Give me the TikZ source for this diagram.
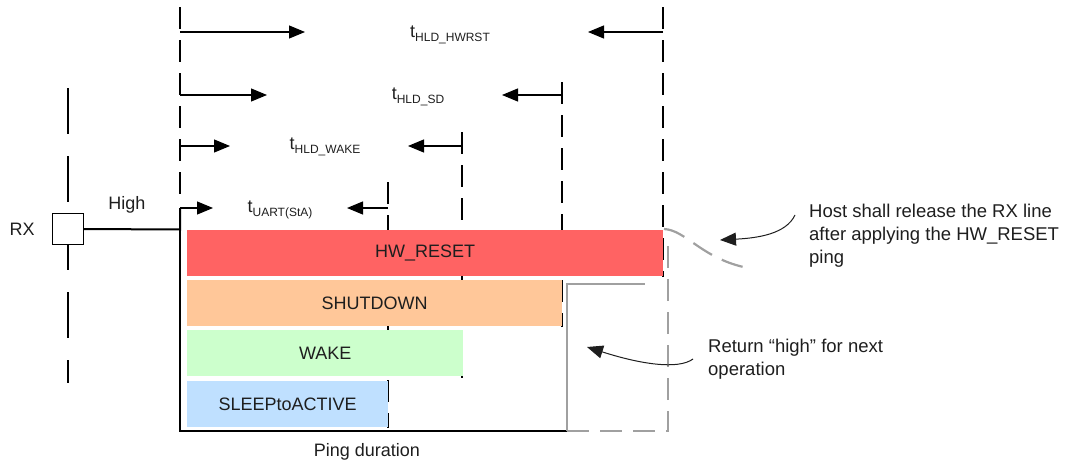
\documentclass[tikz,border=0pt]{standalone}
\usepackage{fontspec}
\setmainfont{Liberation Sans}
\usetikzlibrary{arrows.meta, positioning, calc}
\definecolor{PingRed}{RGB}{255, 99, 99}
\definecolor{PingPeach}{RGB}{255, 199, 153}
\definecolor{PingGreen}{RGB}{204, 255, 204}
\definecolor{PingBlue}{RGB}{191, 224, 255}
\definecolor{PingGray}{RGB}{160, 160, 160}
\definecolor{PingInk}{RGB}{30, 30, 30}
\tikzset{
  guide/.style={line width=2.2pt, dash pattern=on 22pt off 11pt},
  rxguide/.style={line width=2.2pt, dash pattern=on 46pt off 22pt},
  span/.style={line width=1.2pt, -{Triangle[length=16pt, width=13pt]}},
  callout/.style={line width=1pt, PingInk, -{Triangle[length=16pt, width=13pt]}},
  bar/.style={anchor=north west, inner sep=0pt, minimum height=46pt,
    font=\fontsize{18}{20}\selectfont, text=PingInk},
  note/.style={align=left, anchor=north west, inner sep=0pt,
    font=\fontsize{18.5}{23}\selectfont, text=PingInk},
  lbl/.style={font=\fontsize{18}{20}\selectfont, text=PingInk, inner sep=0pt},
}
\newcommand{\tlabel}[1]{t\raisebox{-0.45ex}{\fontsize{12}{12}\selectfont #1}}

\begin{document}
\begin{tikzpicture}[x=1pt, y=-1pt]
  \useasboundingbox (0,0) rectangle (1075,466);
  % dashed time guides
  \draw[guide] (180,7) -- (180,200);
  \draw[guide] (663,7) -- (663,277);
  \draw[guide] (562,82) -- (562,327);
  \draw[guide] (462,132) -- (462,378);
  \draw[guide] (388,182) -- (388,428);
  \draw[rxguide] (68,88) -- (68,383);

  % ping bars
  \node[bar, fill=PingRed, minimum width=476pt] (hwreset) at (187,230) {HW\_RESET};
  \node[bar, fill=PingPeach, minimum width=375pt] (shutdown) at (187,280) {SHUTDOWN};
  \node[bar, fill=PingGreen, minimum width=276pt] (wake) at (187,330) {WAKE};
  \node[bar, fill=PingBlue, minimum width=201pt] (sleep) at (187,381) {SLEEPtoACTIVE};

  % frame and release lines
  \draw[line width=2pt] (180,208) -- (180,431) -- (567,431);
  \draw[line width=2pt, PingGray] (567,431) -- (567,284) -- (645,284);
  \draw[guide, PingGray] (567,431) -- (668,431) -- (668,240);
  \draw[guide, PingGray] (664,229) .. controls (686,230) and (702,259) .. (748,268);

  % RX input
  \node[draw, fill=white, line width=1.2pt, minimum size=31pt, inner sep=0pt] (rx) at (68,229) {};
  \node[lbl, left=17pt of rx] (rxname) {RX};
  \node[lbl] (high) at (127,205) {High};
  \draw[line width=2pt] (rx.east) -- (180,229.5) -- (180,208);

  % time spans
  \node[lbl] (thwrst) at (450,35) {\tlabel{HLD\_HWRST}};
  \draw[span] (180,32) -- (305,32);
  \draw[span] (663,32) -- (588,32);
  \node[lbl] (tsd) at (418,97) {\tlabel{HLD\_SD}};
  \draw[span] (180,95) -- (267,95);
  \draw[span] (562,95) -- (502,95);
  \node[lbl] (twake) at (325,147) {\tlabel{HLD\_WAKE}};
  \draw[span] (180,146) -- (230,146);
  \draw[span] (462,146) -- (408,146);
  \node[lbl] (tuart) at (280,210) {\tlabel{UART(StA)}};
  \draw[span] (180,208) -- (213,208);
  \draw[span] (388,208) -- (347,208);

  % notes
  \node[note] (hostnote) at (809,204) {Host shall release the RX line\\after applying the HW\_RESET\\ping};
  \coordinate (hosttail) at ($(hostnote.north west)+(-14,11)$);
  \draw[callout] (hosttail) .. controls (786,234) and (758,238) .. (720,240);
  \node[note] (retnote) at (708,339) {Return “high” for next\\operation};
  \coordinate (rettail) at ($(retnote.north west)+(-15,20)$);
  \draw[callout] (rettail) .. controls (678,370) and (640,364) .. (587,347);

  \node[lbl] (pingdur) at (367,452) {Ping duration};
\end{tikzpicture}
\end{document}
